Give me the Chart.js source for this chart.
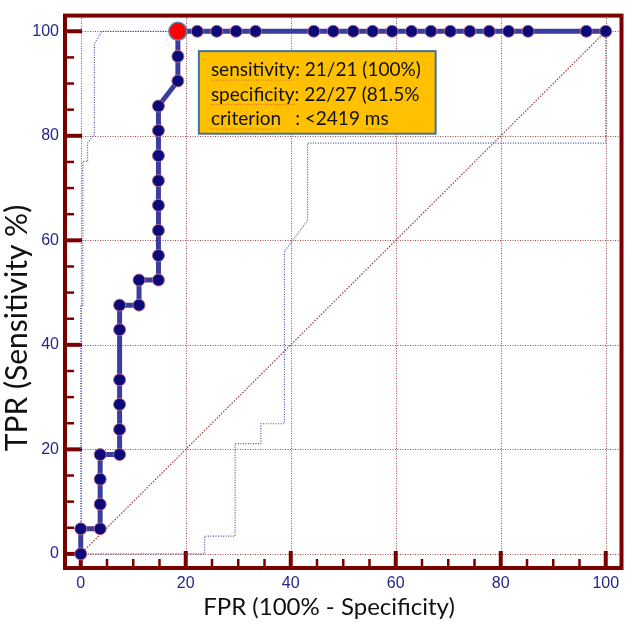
<!DOCTYPE html>
<html>
<head>
<meta charset="utf-8">
<script src="https://cdn.jsdelivr.net/npm/chart.js@4.4.1/dist/chart.umd.min.js"></script>
<style>
  html, body { margin: 0; padding: 0; background: #fff; }
  #wrap { width: 632px; height: 627px; }
</style>
</head>
<body>
<div id="wrap"><canvas id="roc" width="632" height="627"></canvas></div>
<script>
// axis ticks and titles
const tickValues = [0, 20, 40, 60, 80, 100];
const xTitle = 'FPR (100% - Specificity)';
const yTitle = 'TPR (Sensitivity %)';

// empirical ROC curve (FPR %, TPR %)
const rocFpr = [0, 0, 3.7, 3.7, 3.7, 3.7, 7.4, 7.4, 7.4, 7.4, 7.4, 7.4, 11.1, 11.1,
  14.8, 14.8, 14.8, 14.8, 14.8, 14.8, 14.8, 14.8, 18.5, 18.5, 18.5,
  22.2, 25.9, 29.6, 33.3, 44.4, 48.1, 51.9, 55.6, 59.3, 63.0, 66.7, 70.4, 74.1, 77.8, 81.5, 85.2, 96.3, 100];
const rocTpr = [0, 4.8, 4.8, 9.5, 14.3, 19.0, 19.0, 23.8, 28.6, 33.3, 42.9, 47.6, 47.6, 52.4,
  52.4, 57.1, 61.9, 66.7, 71.4, 76.2, 81.0, 85.7, 90.5, 95.2, 100,
  100, 100, 100, 100, 100, 100, 100, 100, 100, 100, 100, 100, 100, 100, 100, 100, 100, 100];

// optimal cut-off
const cutFpr = [18.5];
const cutTpr = [100];

// confidence bounds
const upperFpr = [0, 0, 0.4, 0.4, 1.3, 1.3, 2.6, 2.6, 4.0, 100];
const upperTpr = [0, 47.6, 47.6, 75.1, 75.1, 78.6, 80.3, 97.6, 100, 100];
const lowerFpr = [0, 23.6, 23.6, 29.4, 29.4, 34.3, 34.3, 38.8, 38.8, 43.2, 43.2, 100, 100];
const lowerTpr = [0, 0, 3.4, 3.4, 21.1, 21.1, 24.9, 24.9, 57.9, 63.8, 78.6, 78.6, 100];

// chance line
const diagFpr = [0, 100];
const diagTpr = [0, 100];

const infoLines = ['sensitivity: 21/21 (100%)', 'specificity: 22/27 (81.5%', 'criterion'];
const criterionValue = ': <2419 ms';

const toPoints = (xs, ys) => xs.map((v, i) => ({ x: v, y: ys[i] }));

const GRID = '#9a4a4a';
const FRAME = '#7a0000';
const BAND = '#4f4fab';

const framePlugin = {
  id: 'frame',
  beforeDatasetsDraw(chart) {
    const { ctx, chartArea: a, scales: { x, y } } = chart;
    ctx.save();
    // dotted grid
    ctx.strokeStyle = GRID;
    ctx.lineWidth = 1;
    ctx.setLineDash([1, 1.5]);
    tickValues.forEach(v => {
      const px = Math.round(x.getPixelForValue(v)) + 0.5;
      ctx.beginPath();
      ctx.moveTo(px, a.top);
      ctx.lineTo(px, a.bottom);
      ctx.stroke();
      const py = Math.round(y.getPixelForValue(v)) + 0.5;
      ctx.beginPath();
      ctx.moveTo(a.left, py);
      ctx.lineTo(a.right, py);
      ctx.stroke();
    });
    ctx.setLineDash([]);

    ctx.strokeStyle = FRAME;
    ctx.lineCap = 'butt';
    for (let v = 0; v <= 100; v += 5) {
      const major = v % 20 === 0;
      ctx.lineWidth = major ? 4 : 2.5;
      const len = major ? 17 : 9;
      const px = x.getPixelForValue(v);
      ctx.beginPath();
      ctx.moveTo(px, a.bottom);
      ctx.lineTo(px, a.bottom - len);
      ctx.stroke();
      const py = y.getPixelForValue(v);
      ctx.beginPath();
      ctx.moveTo(a.left, py);
      ctx.lineTo(a.left + len, py);
      ctx.stroke();
    }
    ctx.lineWidth = 4;
    ctx.lineJoin = 'miter';
    ctx.strokeRect(a.left, a.top, a.right - a.left, a.bottom - a.top);
    ctx.restore();
  },
  afterDraw(chart) {
    const { ctx } = chart;
    ctx.save();
    ctx.fillStyle = '#111';
    ctx.textAlign = 'center';
    ctx.textBaseline = 'middle';
    ctx.font = '24px Lato';
    ctx.fillText(xTitle, 329, 607);
    ctx.translate(17, 328);
    ctx.rotate(-Math.PI / 2);
    ctx.font = '30px Lato';
    ctx.fillText(yTitle, 0, 0);
    ctx.restore();
  }
};

const boxPlugin = {
  id: 'infoBox',
  afterDatasetsDraw(chart) {
    const { ctx, scales: { x, y } } = chart;
    const left = x.getPixelForValue(22.5);
    const right = x.getPixelForValue(67.6);
    const top = y.getPixelForValue(96.2);
    const bottom = y.getPixelForValue(80.4);
    ctx.save();
    ctx.fillStyle = '#ffc000';
    ctx.fillRect(left, top, right - left, bottom - top);
    ctx.strokeStyle = '#41719c';
    ctx.lineWidth = 2;
    ctx.strokeRect(left, top, right - left, bottom - top);

    ctx.font = '19px Lato';
    ctx.fillStyle = '#111';
    ctx.textBaseline = 'alphabetic';
    const tx = left + 12;
    const colonX = tx + ctx.measureText('sensitivity').width;
    const squiggle = (x0, w, base) => {
      ctx.save();
      ctx.strokeStyle = '#e0603a';
      ctx.lineWidth = 1;
      ctx.setLineDash([1, 1.5]);
      ctx.beginPath();
      ctx.moveTo(x0, base + 4);
      ctx.lineTo(x0 + w, base + 4);
      ctx.stroke();
      ctx.restore();
    };
    infoLines.forEach((line, i) => {
      const base = top + 25 + i * 24.5;
      ctx.fillText(line, tx, base);
      const word = line.split(':')[0];
      squiggle(tx, ctx.measureText(word).width, base);
      if (i === 2) {
        ctx.fillText(criterionValue, colonX, base);
        const full = ctx.measureText(criterionValue).width;
        const ms = ctx.measureText('ms').width;
        squiggle(colonX + full - ms, ms, base);
      }
    });
    ctx.restore();
  }
};

const scaleBase = () => ({
  type: 'linear',
  afterBuildTicks: s => { s.ticks = tickValues.map(v => ({ value: v })); },
  grid: { display: false, drawTicks: false },
  border: { display: false },
  ticks: {
    color: '#25258a',
    font: { family: 'Liberation Sans', size: 16 },
    padding: 6
  }
});

new Chart(document.getElementById('roc'), {
  type: 'scatter',
  data: {
    datasets: [
      {
        data: toPoints(cutFpr, cutTpr),
        pointRadius: 9,
        pointBackgroundColor: '#ff0000',
        pointBorderColor: '#5c84a8',
        pointBorderWidth: 1.5,
        showLine: false
      },
      {
        data: toPoints(rocFpr, rocTpr),
        showLine: true,
        borderColor: '#3a3d9e',
        borderWidth: 5,
        pointRadius: 6,
        pointBackgroundColor: '#0a0a78',
        pointBorderColor: '#b86688',
        pointBorderWidth: 1,
        tension: 0
      },
      {
        data: toPoints(upperFpr, upperTpr),
        showLine: true,
        borderColor: BAND,
        borderWidth: 1.2,
        borderDash: [1, 1.5],
        pointRadius: 0
      },
      {
        data: toPoints(lowerFpr, lowerTpr),
        showLine: true,
        borderColor: BAND,
        borderWidth: 1.2,
        borderDash: [1, 1.5],
        pointRadius: 0
      },
      {
        data: toPoints(diagFpr, diagTpr),
        showLine: true,
        borderColor: GRID,
        borderWidth: 1.3,
        borderDash: [1.5, 1.5],
        pointRadius: 0
      }
    ]
  },
  options: {
    responsive: false,
    animation: false,
    layout: { padding: { top: 7, right: 4, left: 0, bottom: 0 } },
    plugins: { legend: { display: false }, tooltip: { enabled: false } },
    scales: {
      x: Object.assign(scaleBase(), {
        min: -3, max: 103,
        afterFit: s => { s.height = 59; }
      }),
      y: Object.assign(scaleBase(), {
        min: -2.7, max: 103,
        afterFit: s => { s.width = 65; }
      })
    }
  },
  plugins: [framePlugin, boxPlugin]
});
</script>
</body>
</html>
